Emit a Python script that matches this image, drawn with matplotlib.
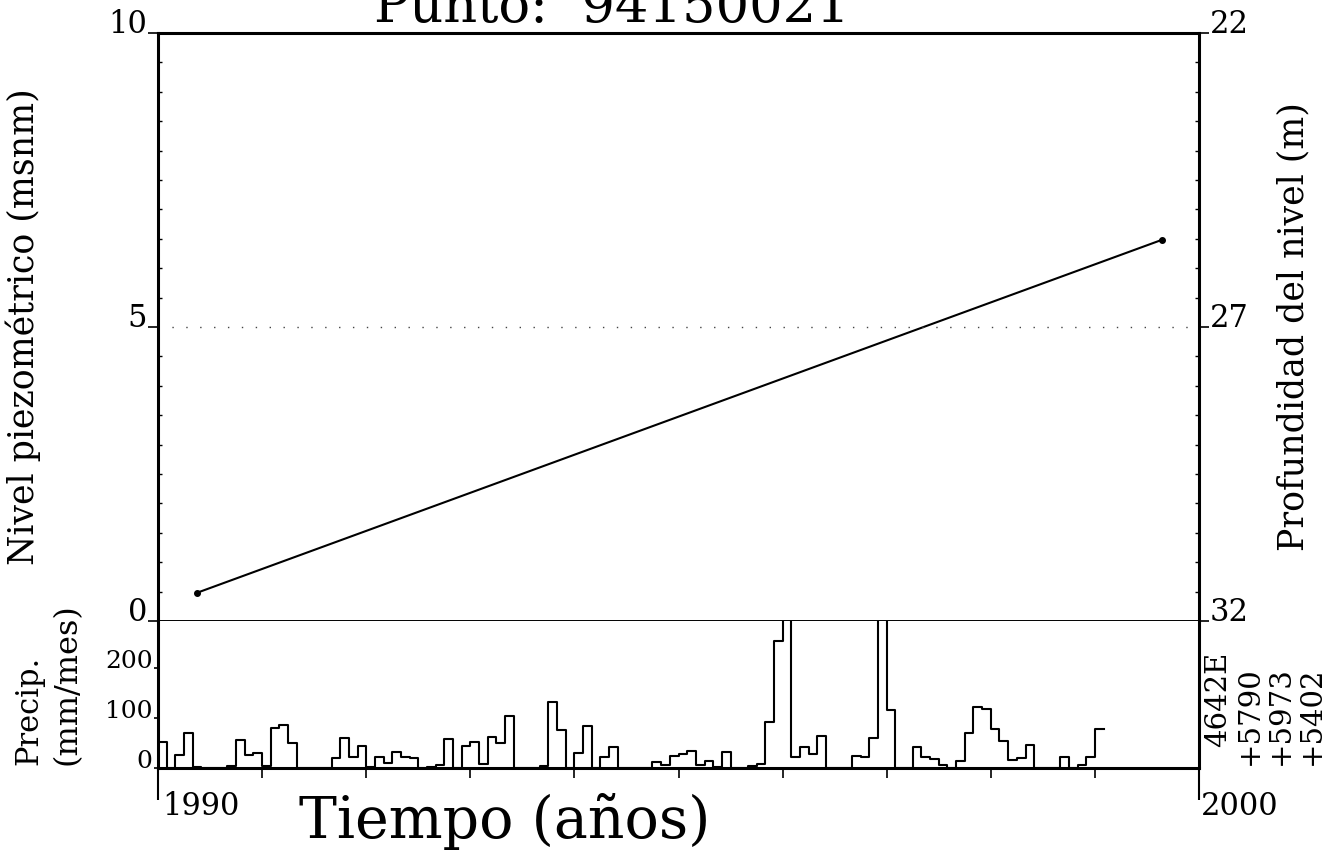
import numpy as np
import matplotlib
matplotlib.use('Agg')
import matplotlib.pyplot as plt
import matplotlib.transforms as mtransforms

plt.rcParams['font.family'] = ['DejaVu Serif']

# Datos del punto
punto = '94150021'
coords = ['4642E', '+5790', '+5973', '+5402']

# Nivel piezometrico (fecha decimal, msnm)
fechas_nivel = [1990.375, 1999.64]
nivel = [0.48, 6.48]

# Precipitacion mensual (mm/mes), desde enero 1990
precip = [
    53, 0, 27, 70, 2, 0, 0, 0, 5, 57, 27, 31,        # 1990
    5, 80, 87, 50, 0, 0, 0, 0, 20, 61, 23, 45,       # 1991
    3, 22, 10, 32, 23, 20, 0, 3, 7, 58, 0, 45,       # 1992
    53, 8, 62, 50, 105, 0, 0, 0, 5, 133, 77, 0,      # 1993
    30, 85, 0, 23, 42, 0, 0, 0, 0, 13, 7, 25,        # 1994
    29, 35, 7, 15, 3, 32, 0, 0, 5, 8, 93, 255,       # 1995
    400, 23, 42, 28, 65, 0, 0, 0, 25, 22, 60, 350,   # 1996
    117, 0, 0, 42, 23, 18, 7, 0, 15, 71, 123, 119,   # 1997
    78, 55, 17, 21, 47, 0, 0, 0, 23, 0, 7, 23,       # 1998
    78,                                              # 1999
]

anio_ini, anio_fin = 1990, 2000

fig = plt.figure(figsize=(13.4, 8.65), dpi=100)
W, H = 1340, 865
x0, x1 = 158, 1199
y_top, y_mid, y_bot = 33, 621, 768

ax = fig.add_axes([x0 / W, 1 - y_mid / H, (x1 - x0) / W, (y_mid - y_top) / H])
axp = fig.add_axes([x0 / W, 1 - y_bot / H, (x1 - x0) / W, (y_bot - y_mid) / H], sharex=ax)

# ---- panel principal ----
ax.plot(fechas_nivel, nivel, color='black', lw=1.5, marker='o', ms=4)
ax.axhline(5, color='#444444', lw=1.0, ls=(0, (1, 9)))
ax.set_xlim(anio_ini, anio_fin)
ax.set_ylim(0, 10)
ax.set_yticks([0, 5, 10])
ax.set_yticklabels(['0', '5', '10'])
ax.set_yticks(np.arange(0, 10.01, 0.5), minor=True)
ax.tick_params(axis='y', which='major', direction='out', length=7, width=1.2,
               labelsize=22, pad=1)
ax.tick_params(axis='y', which='minor', direction='in', length=3, width=1)
ax.tick_params(axis='x', which='both', bottom=False, labelbottom=False)
for lab in ax.get_yticklabels():
    lab.set_va('baseline')
for s in ['left', 'right', 'top']:
    ax.spines[s].set_linewidth(2.2)
ax.spines['bottom'].set_linewidth(1.4)
ax.set_ylabel('Nivel piezométrico (msnm)', fontsize=25, labelpad=48)

ax2 = ax.twinx()
ax2.set_ylim(32, 22)
ax2.set_yticks([22, 27, 32])
ax2.set_yticklabels(['22', '27', '32'])
ax2.set_yticks(np.arange(22, 32.01, 0.5), minor=True)
ax2.tick_params(axis='y', which='major', direction='out', length=7, width=1.2,
                labelsize=22, pad=1)
ax2.tick_params(axis='y', which='minor', direction='in', length=3, width=1)
for lab in ax2.get_yticklabels():
    lab.set_va('baseline')
for s in ax2.spines.values():
    s.set_visible(False)
ax2.set_ylabel('Profundidad del nivel (m)', fontsize=25, labelpad=20)

# ---- panel de precipitacion ----
bordes = anio_ini + np.arange(len(precip) + 1) / 12.0
axp.step(bordes, np.append(precip, precip[-1]), where='post', color='black', lw=1.5)
axp.set_ylim(0, 294)
axp.set_yticks([0, 100, 200])
axp.set_yticklabels(['0', '100', '200'])
axp.tick_params(axis='y', direction='out', length=3, width=1.2, labelsize=18, pad=1)
for lab in axp.get_yticklabels():
    lab.set_va('baseline')
axp.set_xticks([anio_ini, anio_fin])
axp.set_xticklabels(['', ''])
axp.set_xticks(np.arange(anio_ini + 1, anio_fin), minor=True)
axp.tick_params(axis='x', which='major', direction='out', length=23, width=1.5)
axp.tick_params(axis='x', which='minor', direction='out', length=7, width=1.2)
axp.spines['top'].set_visible(False)
for s in ['left', 'right', 'bottom']:
    axp.spines[s].set_linewidth(2.2)

tr = mtransforms.blended_transform_factory(axp.transData, fig.transFigure)
axp.text(anio_ini + 0.04, 1 - 815 / H, str(anio_ini), transform=tr, fontsize=22,
         ha='left', va='baseline')
axp.text(anio_fin + 0.02, 1 - 815 / H, str(anio_fin), transform=tr, fontsize=22,
         ha='left', va='baseline')

fig.text(29 / W, 1 - 765 / H, 'Precip.', rotation=90, fontsize=22,
         ha='center', va='bottom')
fig.text(67 / W, 1 - 765 / H, '(mm/mes)', rotation=90, fontsize=23,
         ha='center', va='bottom')

# coordenadas del punto
pos_x = [1218, 1250, 1281, 1312]
pos_y = [747, 765, 765, 765]
for c, px, py in zip(coords, pos_x, pos_y):
    fig.text(px / W, 1 - py / H, c, rotation=90, fontsize=21,
             ha='center', va='bottom')

fig.text(505 / W, 1 - 838 / H, 'Tiempo (años)', fontsize=41, ha='center', va='baseline')
fig.text(612 / W, 1 - 22 / H, 'Punto:  ' + punto, fontsize=38, ha='center', va='baseline')

fig.savefig('out.png', dpi=100)
